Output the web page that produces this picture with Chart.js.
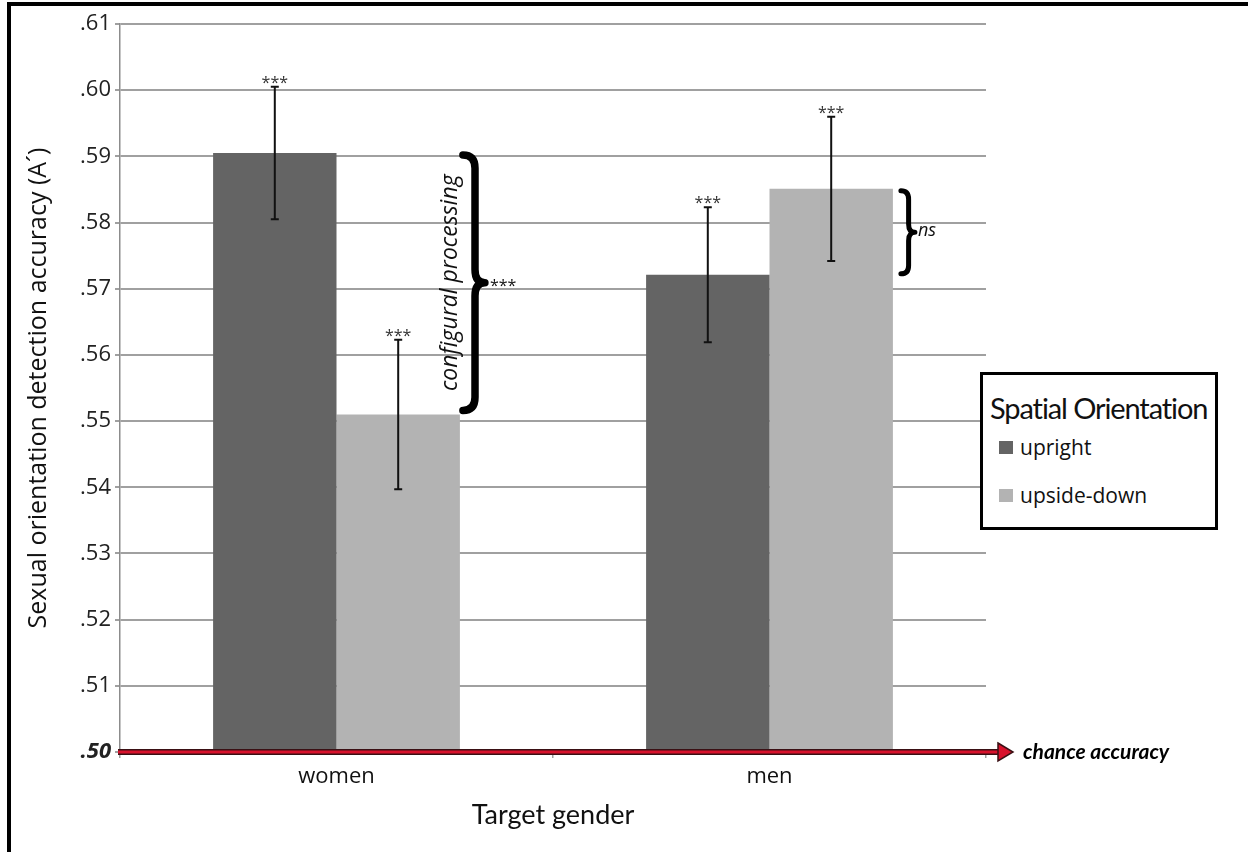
<!DOCTYPE html>
<html lang="en">
<head>
  <meta charset="UTF-8">
  <title>Sexual orientation detection accuracy</title>
  <script src="https://cdn.jsdelivr.net/npm/chart.js"></script>
  <style>
    html, body {
      margin: 0;
      padding: 0;
      background: #fff;
    }
    #wrap {
      position: relative;
      width: 1248px;
      height: 852px;
      overflow: hidden;
    }
    #frame {
      position: absolute;
      left: 7px;
      top: 2px;
      width: 1300px;
      height: 900px;
      border-left: 4px solid #000;
      border-top: 4px solid #000;
    }
    canvas {
      position: absolute;
      left: 0;
      top: 0;
    }
    #legend {
      position: absolute;
      left: 980px;
      top: 372px;
      width: 238px;
      height: 158px;
      box-sizing: border-box;
      border: 3px solid #000;
      background: #fff;
    }
    #legend .title {
      position: absolute;
      left: 7px;
      top: 18px;
      font-family: Lato, sans-serif;
      font-size: 29px;
      letter-spacing: -1.1px;
      line-height: 1;
      color: #111;
      white-space: nowrap;
    }
    #legend .item {
      position: absolute;
      left: 16px;
      font-family: "Open Sans", sans-serif;
      font-size: 21px;
      line-height: 1;
      color: #111;
      display: flex;
      align-items: center;
      white-space: nowrap;
    }
    #legend .swatch {
      width: 14px;
      height: 13px;
      margin-right: 7px;
    }
  </style>
</head>
<body>
  <div id="wrap">
    <canvas id="accChart" width="1248" height="852"></canvas>
    <div id="frame"></div>
    <div id="legend"></div>
  </div>

  <script>
    // data
    const categories = ["women", "men"];
    const seriesNames = ["upright", "upside-down"];
    const seriesColors = ["#646464", "#b3b3b3"];
    const upright = [0.5905, 0.5721];
    const upsideDown = [0.5510, 0.5851];
    const uprightErr = [0.0100, 0.0102];
    const upsideDownErr = [0.0113, 0.0109];
    const starLabels = ["***", "***"];
    const yTickLabels = [".50", ".51", ".52", ".53", ".54", ".55", ".56", ".57", ".58", ".59", ".60", ".61"];
    const legendTitle = "Spatial Orientation";
    const chanceLabel = "chance accuracy";
    const womenBraceLabel = "configural processing";
    const womenBraceSig = "***";
    const menBraceSig = "ns";

    // legend (html)
    const legendEl = document.getElementById("legend");
    const titleEl = document.createElement("div");
    titleEl.className = "title";
    titleEl.textContent = legendTitle;
    legendEl.appendChild(titleEl);
    const itemTops = [62, 110];
    seriesNames.forEach((name, i) => {
      const item = document.createElement("div");
      item.className = "item";
      item.style.top = itemTops[i] + "px";
      const sw = document.createElement("span");
      sw.className = "swatch";
      sw.style.background = seriesColors[i];
      item.appendChild(sw);
      item.appendChild(document.createTextNode(name));
      legendEl.appendChild(item);
    });

    function drawBrace(ctx, x0, y1, y2, w, lw) {
      const xv = x0 + w * 0.55;
      const xt = x0 + w;
      const ym = (y1 + y2) / 2;
      const r = Math.min(w * 0.6, (y2 - y1) / 4);
      ctx.save();
      ctx.strokeStyle = "#000";
      ctx.lineWidth = lw;
      ctx.lineCap = "round";
      ctx.lineJoin = "round";
      ctx.beginPath();
      ctx.moveTo(x0, y1);
      ctx.quadraticCurveTo(xv, y1, xv, y1 + r);
      ctx.lineTo(xv, ym - r);
      ctx.quadraticCurveTo(xv, ym, xt, ym);
      ctx.quadraticCurveTo(xv, ym, xv, ym + r);
      ctx.lineTo(xv, y2 - r);
      ctx.quadraticCurveTo(xv, y2, x0, y2);
      ctx.stroke();
      ctx.restore();
    }

    const extras = {
      id: "extras",
      afterDatasetsDraw(chart) {
        const ctx = chart.ctx;
        const y = chart.scales.y;
        const area = chart.chartArea;
        const vals = [upright, upsideDown];
        const errs = [uprightErr, upsideDownErr];

        // error bars + stars
        vals.forEach((series, di) => {
          const meta = chart.getDatasetMeta(di);
          meta.data.forEach((bar, i) => {
            const top = y.getPixelForValue(series[i] + errs[di][i]);
            const bot = y.getPixelForValue(series[i] - errs[di][i]);
            ctx.save();
            ctx.strokeStyle = "#111";
            ctx.lineWidth = 2;
            ctx.beginPath();
            ctx.moveTo(bar.x, top);
            ctx.lineTo(bar.x, bot);
            ctx.moveTo(bar.x - 4, top);
            ctx.lineTo(bar.x + 4, top);
            ctx.moveTo(bar.x - 4, bot);
            ctx.lineTo(bar.x + 4, bot);
            ctx.stroke();
            ctx.fillStyle = "#333";
            ctx.font = "16px 'Open Sans'";
            ctx.textAlign = "center";
            ctx.textBaseline = "alphabetic";
            ctx.fillText(starLabels[di], bar.x, top + 1);
            ctx.restore();
          });
        });

        // chance line with arrow
        const y0 = y.getPixelForValue(0.5);
        const xStart = area.left - 2;
        const xEnd = area.right + 12;
        const xTip = area.right + 27;
        ctx.save();
        ctx.lineCap = "butt";
        ctx.strokeStyle = "#3a1014";
        ctx.lineWidth = 6;
        ctx.beginPath();
        ctx.moveTo(xStart, y0);
        ctx.lineTo(xEnd, y0);
        ctx.stroke();
        ctx.strokeStyle = "#d8122c";
        ctx.lineWidth = 3;
        ctx.beginPath();
        ctx.moveTo(xStart, y0);
        ctx.lineTo(xEnd + 1, y0);
        ctx.stroke();
        ctx.beginPath();
        ctx.moveTo(xEnd, y0 - 9);
        ctx.lineTo(xTip, y0);
        ctx.lineTo(xEnd, y0 + 9);
        ctx.closePath();
        ctx.fillStyle = "#d8122c";
        ctx.fill();
        ctx.lineWidth = 1.5;
        ctx.strokeStyle = "#3a1014";
        ctx.stroke();
        ctx.fillStyle = "#000";
        ctx.font = "italic bold 21px Lato";
        ctx.textAlign = "left";
        ctx.textBaseline = "middle";
        ctx.fillText(chanceLabel, xTip + 10, y0);
        ctx.restore();

        // braces
        const wBar = chart.getDatasetMeta(1).data[0];
        const wRight = wBar.x + wBar.width / 2;
        const wy1 = y.getPixelForValue(upright[0]) + 2;
        const wy2 = y.getPixelForValue(upsideDown[0]) - 4;
        drawBrace(ctx, wRight + 3, wy1, wy2, 22, 7.5);
        const wMid = (wy1 + wy2) / 2;
        ctx.save();
        ctx.fillStyle = "#111";
        ctx.font = "16px 'Open Sans'";
        ctx.textAlign = "left";
        ctx.textBaseline = "alphabetic";
        ctx.fillText(womenBraceSig, wRight + 30, wMid + 8);
        ctx.translate(wRight - 3, wMid);
        ctx.rotate(-Math.PI / 2);
        ctx.font = "italic 23px 'Open Sans'";
        ctx.textAlign = "center";
        ctx.fillText(womenBraceLabel, 0, 0);
        ctx.restore();

        const mBar = chart.getDatasetMeta(1).data[1];
        const mRight = mBar.x + mBar.width / 2;
        const my1 = y.getPixelForValue(upsideDown[1]) + 2;
        const my2 = y.getPixelForValue(upright[1]) - 1;
        drawBrace(ctx, mRight + 8, my1, my2, 14, 5);
        ctx.save();
        ctx.fillStyle = "#111";
        ctx.font = "italic 18px 'Open Sans'";
        ctx.textAlign = "left";
        ctx.textBaseline = "middle";
        ctx.fillText(menBraceSig, mRight + 25, (my1 + my2) / 2 - 1);
        ctx.restore();
      }
    };

    const tickFont = (c) => {
      const v = c.tick ? c.tick.value : 0;
      if (Math.abs(v - 0.5) < 1e-9) {
        return { family: "'Open Sans'", size: 22, style: "italic", weight: "bold" };
      }
      return { family: "'Open Sans'", size: 22 };
    };

    const ctx = document.getElementById("accChart").getContext("2d");
    const chart = new Chart(ctx, {
      type: "bar",
      data: {
        labels: categories,
        datasets: [
          { label: seriesNames[0], data: upright, backgroundColor: seriesColors[0] },
          { label: seriesNames[1], data: upsideDown, backgroundColor: seriesColors[1] }
        ]
      },
      options: {
        responsive: false,
        animation: false,
        categoryPercentage: 0.57,
        barPercentage: 1.0,
        layout: { padding: { left: 24, right: 262, top: 24, bottom: 21 } },
        plugins: {
          legend: { display: false },
          tooltip: { enabled: false }
        },
        scales: {
          x: {
            grid: { drawOnChartArea: false, tickLength: 6, color: "#a0a0a0", lineWidth: 1.5, offset: true },
            border: { display: false },
            ticks: { padding: 6, color: "#111", font: { family: "'Open Sans'", size: 22 } },
            title: {
              display: true,
              text: "Target gender",
              color: "#111",
              font: { family: "Lato", size: 27 },
              padding: { top: 9, bottom: 0 }
            },
            afterFit(s) { s.height = 79; }
          },
          y: {
            min: 0.5,
            max: 0.61,
            ticks: {
              stepSize: 0.01,
              padding: 4,
              color: "#222",
              font: tickFont,
              callback: (v, i) => yTickLabels[i]
            },
            grid: { color: "#a0a0a0", lineWidth: 2, tickLength: 5 },
            border: { color: "#8c8c8c", width: 1.5 },
            title: {
              display: true,
              text: "Sexual orientation detection accuracy (A\u00b4)",
              color: "#111",
              font: { family: "'Open Sans'", size: 25 },
              padding: 0
            },
            afterFit(s) { s.width = 96; }
          }
        }
      },
      plugins: [extras]
    });
  </script>
</body>
</html>
